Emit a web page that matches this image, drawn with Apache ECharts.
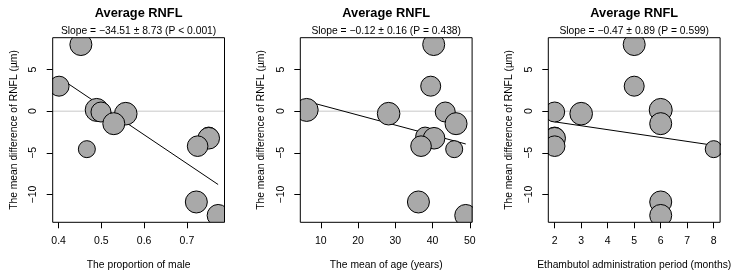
<!DOCTYPE html>
<html><head><meta charset="utf-8">
<script src="https://cdn.jsdelivr.net/npm/echarts@6/dist/echarts.min.js"></script>
<style>html,body{margin:0;padding:0;background:#fff}#c{width:738px;height:279px}</style>
</head><body><div id="c"></div>
<script>
// ---- data (12 studies, same order in each panel) ----
const rnflDiff        = [8.0, 3.0, 0.15, -0.1, -0.3, -1.5, -3.05, -3.25, -4.2, -4.56, -10.9, -12.52];
const proportionMale  = [0.452, 0.401, 0.489, 0.499, 0.557, 0.529, 0.751, 0.751, 0.725, 0.466, 0.722, 0.773];
const meanAge         = [40.3, 39.5, 6.2, 43.4, 28.2, 46.3, 38.0, 40.4, 36.9, 45.8, 36.2, 48.9];
const ethambutolMonths= [5, 5, 6, 2, 3, 6, 2, 2, 2, 8, 6, 6];
const studyWeight     = [11, 10, 11.5, 10, 11.3, 11, 9.5, 10.8, 10.3, 8.5, 11, 11]; // bubble radius weight

const panelTitle = 'Average RNFL';
const slopeLabels = [
  'Slope = \u221234.51 \u00b1 8.73 (P < 0.001)',
  'Slope = \u22120.12 \u00b1 0.16 (P = 0.438)',
  'Slope = \u22120.47 \u00b1 0.89 (P = 0.599)'
];
const fitIntercept = [17.87, 1.93, -0.34];
const fitSlope     = [-34.51, -0.12, -0.47];
const xTitles = ['The proportion of male', 'The mean of age (years)', 'Ethambutol administration period (months)'];
const yTitle = 'The mean difference of RNFL (\u00b5m)';
const xTicks = [[0.4, 0.5, 0.6, 0.7], [10, 20, 30, 40, 50], [2, 3, 4, 5, 6, 7, 8]];
const yTicks = [-10, -5, 0, 5];
const xData = [proportionMale, meanAge, ethambutolMonths];

// ---- chart ----
const FONT = '"Liberation Sans", Arial, Helvetica, sans-serif';
function rRange(arr) { const lo = Math.min(...arr), hi = Math.max(...arr), d = (hi - lo) * 0.04; return [lo - d, hi + d]; }
const yr = rRange(rnflDiff);
const minus = s => String(s).replace('-', '\u2212');

const gridLefts = [52.7, 300.3, 548.3];
const gridW = 171.8, gridTop = 37.7, gridH = 184.6;

const grids = [], xAxes = [], yAxes = [], series = [], graphics = [];
for (let i = 0; i < 3; i++) {
  const xr = rRange(xData[i]);
  grids.push({ left: gridLefts[i], top: gridTop, width: gridW, height: gridH, show: true,
    borderColor: '#000', borderWidth: 1, backgroundColor: 'transparent', z: 10 });
  xAxes.push({ gridIndex: i, type: 'value', min: xr[0], max: xr[1],
    axisLine: { show: false, onZero: false }, splitLine: { show: false },
    axisTick: { show: true, length: 6, customValues: xTicks[i], lineStyle: { color: '#000', width: 1 } },
    axisLabel: { customValues: xTicks[i], margin: 13, color: '#000', fontSize: 10.5, fontFamily: FONT,
      formatter: v => (i === 0 ? Number(v).toFixed(1) : String(v)) },
    name: xTitles[i], nameLocation: 'middle', nameGap: 38,
    nameTextStyle: { color: '#000', fontSize: 10.3, fontFamily: FONT }, z: 11 });
  yAxes.push({ gridIndex: i, type: 'value', min: yr[0], max: yr[1],
    axisLine: { show: false, onZero: false }, splitLine: { show: false },
    axisTick: { show: true, length: 6, customValues: yTicks, lineStyle: { color: '#000', width: 1 } },
    axisLabel: { customValues: yTicks, rotate: 90, margin: 14, color: '#000', fontSize: 10.5, fontFamily: FONT,
      formatter: v => minus(v) },
    name: yTitle, nameLocation: 'middle', nameGap: 34,
    nameTextStyle: { color: '#000', fontSize: 10.3, fontFamily: FONT }, z: 11 });
  // zero reference line
  series.push({ type: 'line', xAxisIndex: i, yAxisIndex: i, data: [[xr[0], 0], [xr[1], 0]],
    symbol: 'none', silent: true, lineStyle: { color: '#c8c8c8', width: 1 }, z: 1 });
  // regression line between data extremes
  const lo = Math.min(...xData[i]), hi = Math.max(...xData[i]);
  series.push({ type: 'line', xAxisIndex: i, yAxisIndex: i,
    data: [[lo, fitIntercept[i] + fitSlope[i] * lo], [hi, fitIntercept[i] + fitSlope[i] * hi]],
    symbol: 'none', silent: true, lineStyle: { color: '#000', width: 1 }, z: 2 });
  // bubbles
  series.push({ type: 'custom', xAxisIndex: i, yAxisIndex: i, clip: true, z: 3,
    data: rnflDiff.map((y, k) => [xData[i][k], y, studyWeight[k]]),
    renderItem: (params, api) => {
      const p = api.coord([api.value(0), api.value(1)]);
      return { type: 'circle', shape: { cx: p[0], cy: p[1], r: api.value(2) },
        style: { fill: '#a9a9a9', stroke: '#000', lineWidth: 1 } };
    } });
  const cx = gridLefts[i] + gridW / 2;
  graphics.push({ type: 'text', x: cx, y: 13.5, style: { text: panelTitle, align: 'center', verticalAlign: 'middle',
    fontSize: 12.8, fontWeight: 'bold', fontFamily: FONT, fill: '#000' } });
  graphics.push({ type: 'text', x: cx, y: 31.5, style: { text: slopeLabels[i], align: 'center', verticalAlign: 'middle',
    fontSize: 10.3, fontFamily: FONT, fill: '#000' } });
}

const chart = echarts.init(document.getElementById('c'), null, { renderer: 'canvas' });
chart.setOption({ animation: false, backgroundColor: '#fff', grid: grids, xAxis: xAxes, yAxis: yAxes,
  series: series, graphic: graphics });
</script></body></html>
